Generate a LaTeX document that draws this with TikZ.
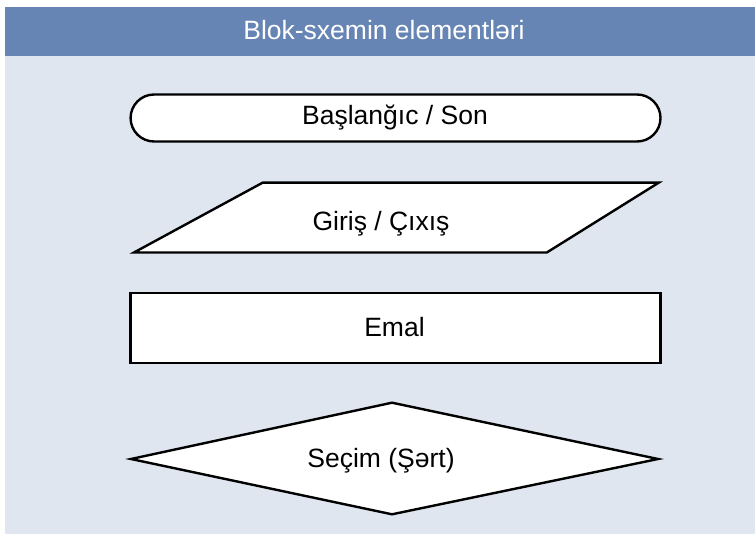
\documentclass[tikz,border=0pt]{standalone}
\usepackage{fontspec}
\setmainfont{Liberation Sans}
\definecolor{headerblue}{HTML}{6685B4}
\definecolor{panelbg}{HTML}{DFE6EF}
\tikzset{
  block/.style={draw=black, fill=white, line width=2.4pt, line join=miter},
  label/.style={font=\fontsize{26.5}{30}\selectfont, text=black, inner sep=0pt},
  title/.style={font=\fontsize{26.5}{30}\selectfont, text=white, inner sep=0pt}
}
\begin{document}
\begin{tikzpicture}[x=1pt,y=-1pt]
  \useasboundingbox (0,0) rectangle (755,534);
  % panel and header band
  \fill[panelbg] (5,7) rectangle (755,534);
  \fill[headerblue] (5,7) rectangle (755,56);
  \node[title] (title) at (384,30) {Blok-sxemin elementləri};

  % terminator
  \draw[block, rounded corners=23.5pt] (130.6,94.5) rectangle (660.5,141.5);
  \node[label] (start) at (395,118) {Başlanğıc / Son};

  % input / output
  \draw[block] (262.6,182.7) -- (658.7,182.7) -- (546.8,252.5) -- (134,252.5) -- cycle;
  \node[label] (io) at (381,223.5) {Giriş / Çıxış};

  % process
  \draw[block] (130.6,293) rectangle (660.5,363);
  \node[label] (proc) at (394.5,327) {Emal};

  % decision
  \draw[block] (392,402.7) -- (658,459) -- (392,514.3) -- (131,459) -- cycle;
  \node[label] (dec) at (381,461) {Seçim (Şərt)};
\end{tikzpicture}
\end{document}
